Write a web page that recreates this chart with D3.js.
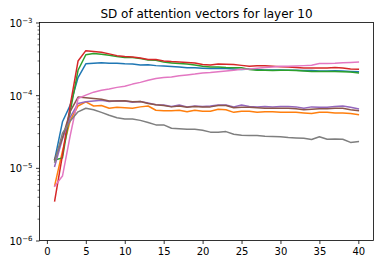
<!DOCTYPE html>
<html><head><meta charset="utf-8">
<script src="https://cdn.jsdelivr.net/npm/d3@7"></script>
<style>html,body{margin:0;padding:0;background:#fff;}svg{display:block;font-family:"DejaVu Sans",sans-serif;}</style>
</head><body><svg id="c" width="384" height="264"></svg>
<script>
const titleText = "SD of attention vectors for layer 10";
const layers = d3.range(1, 41);
const xTicks = [0, 5, 10, 15, 20, 25, 30, 35, 40];
const yTickExps = [-6, -5, -4, -3];
const seriesColors = ["#1f77b4", "#ff7f0e", "#2ca02c", "#d62728", "#9467bd", "#8c564b", "#e377c2", "#7f7f7f"];

const blue = [1.3e-5,4.3e-5,7.3e-5,1.75e-4,2.7e-4,2.75e-4,2.8e-4,2.75e-4,2.75e-4,2.7e-4,2.68e-4,2.6e-4,2.62e-4,2.55e-4,2.52e-4,2.48e-4,2.45e-4,2.38e-4,2.38e-4,2.35e-4,2.32e-4,2.34e-4,2.33e-4,2.3e-4,2.25e-4,2.3e-4,2.25e-4,2.22e-4,2.22e-4,2.22e-4,2.2e-4,2.2e-4,2.18e-4,2.18e-4,2.15e-4,2.15e-4,2.17e-4,2.15e-4,2.12e-4,2.1e-4];
const orange = [5.7e-6,1.7e-5,4.5e-5,7.1e-5,8.1e-5,7.1e-5,7.2e-5,6.6e-5,6.8e-5,6.7e-5,6.6e-5,6.9e-5,7.1e-5,6.2e-5,6.1e-5,6.1e-5,6.2e-5,5.9e-5,6.2e-5,6.0e-5,6.0e-5,6.4e-5,6.3e-5,5.8e-5,6.0e-5,6.0e-5,5.8e-5,5.9e-5,5.9e-5,5.8e-5,5.8e-5,5.8e-5,5.7e-5,5.6e-5,5.8e-5,5.8e-5,5.7e-5,5.7e-5,5.6e-5,5.4e-5];
const green = [1.28e-5,1.37e-5,6e-5,2.2e-4,3.6e-4,3.75e-4,3.65e-4,3.55e-4,3.4e-4,3.3e-4,3.3e-4,3.2e-4,3.05e-4,3.02e-4,2.85e-4,2.78e-4,2.72e-4,2.68e-4,2.6e-4,2.5e-4,2.45e-4,2.45e-4,2.4e-4,2.38e-4,2.38e-4,2.25e-4,2.2e-4,2.2e-4,2.18e-4,2.2e-4,2.2e-4,2.18e-4,2.15e-4,2.12e-4,2.12e-4,2.12e-4,2.12e-4,2.1e-4,2.08e-4,2.02e-4];
const red = [3.5e-6,1.5e-5,7.3e-5,2.95e-4,4.1e-4,4.0e-4,3.9e-4,3.7e-4,3.5e-4,3.4e-4,3.35e-4,3.25e-4,3.1e-4,3.1e-4,2.95e-4,2.9e-4,2.87e-4,2.82e-4,2.78e-4,2.65e-4,2.6e-4,2.69e-4,2.67e-4,2.64e-4,2.57e-4,2.5e-4,2.53e-4,2.53e-4,2.5e-4,2.47e-4,2.45e-4,2.41e-4,2.37e-4,2.37e-4,2.37e-4,2.37e-4,2.41e-4,2.37e-4,2.3e-4,2.27e-4];
const purple = [1.05e-5,2.5e-5,5e-5,7.7e-5,8.1e-5,8.3e-5,8.5e-5,8.2e-5,8.4e-5,8.3e-5,8.0e-5,8.2e-5,7.8e-5,7.4e-5,7.3e-5,7.0e-5,7.3e-5,6.9e-5,7.1e-5,7.0e-5,7.1e-5,7.3e-5,7.3e-5,6.9e-5,7.3e-5,7.0e-5,6.9e-5,7.0e-5,6.9e-5,7.0e-5,7.0e-5,6.9e-5,6.6e-5,6.9e-5,6.8e-5,6.8e-5,7.0e-5,7.1e-5,6.8e-5,6.5e-5];
const brown = [1.3e-5,2.6e-5,6e-5,9.4e-5,9.2e-5,9.0e-5,8.8e-5,8.3e-5,8.3e-5,8.4e-5,8.1e-5,8.2e-5,7.7e-5,7.4e-5,7.2e-5,6.9e-5,7.1e-5,6.8e-5,7.0e-5,6.9e-5,6.9e-5,7.2e-5,7.2e-5,6.7e-5,6.8e-5,6.8e-5,6.7e-5,6.6e-5,6.6e-5,6.6e-5,6.6e-5,6.5e-5,6.3e-5,6.4e-5,6.5e-5,6.5e-5,6.6e-5,6.6e-5,6.3e-5,6.1e-5];
const pink = [5.6e-6,7.7e-6,2.8e-5,9e-5,1.0e-4,1.1e-4,1.17e-4,1.22e-4,1.28e-4,1.33e-4,1.42e-4,1.5e-4,1.6e-4,1.7e-4,1.75e-4,1.78e-4,1.85e-4,1.9e-4,1.95e-4,2.02e-4,2.05e-4,2.1e-4,2.15e-4,2.2e-4,2.27e-4,2.3e-4,2.35e-4,2.4e-4,2.45e-4,2.5e-4,2.5e-4,2.52e-4,2.55e-4,2.58e-4,2.72e-4,2.72e-4,2.75e-4,2.8e-4,2.82e-4,2.85e-4];
const gray = [1.2e-5,3.0e-5,4.4e-5,5.9e-5,6.6e-5,6.3e-5,5.8e-5,5.3e-5,4.9e-5,4.7e-5,4.7e-5,4.5e-5,4.2e-5,3.9e-5,3.9e-5,3.5e-5,3.45e-5,3.4e-5,3.4e-5,3.3e-5,3.1e-5,3.1e-5,3.15e-5,2.9e-5,2.8e-5,2.78e-5,2.78e-5,2.72e-5,2.7e-5,2.68e-5,2.62e-5,2.58e-5,2.55e-5,2.45e-5,2.68e-5,2.47e-5,2.5e-5,2.47e-5,2.24e-5,2.3e-5];

const allSeries = [blue, orange, green, red, purple, brown, pink, gray];

const L = 39.5, R = 373.5, T = 22.5, B = 240.5;
const svg = d3.select("#c");
const x = d3.scaleLinear().domain([-0.95, 41.95]).range([L, R]);
const y = d3.scaleLog().domain([1e-6, 1e-3]).range([B, T]);

const plot = svg.append("g");
const clip = svg.append("defs").append("clipPath").attr("id","clp").append("rect")
  .attr("x", L).attr("y", T).attr("width", R - L).attr("height", B - T);
const line = d3.line().x((d, i) => x(layers[i])).y(d => y(d));
allSeries.forEach((s, k) => {
  plot.append("path").datum(s).attr("d", line).attr("fill", "none")
    .attr("stroke", seriesColors[k]).attr("stroke-width", 1.5)
    .attr("stroke-linejoin", "round").attr("stroke-linecap", "square")
    .attr("clip-path", "url(#clp)");
});

// spines
svg.append("rect").attr("x", L).attr("y", T).attr("width", R - L).attr("height", B - T)
  .attr("fill", "none").attr("stroke", "#000").attr("stroke-width", 0.8);

// x axis
const xAxis = d3.axisBottom(x).tickValues(xTicks).tickSize(3.5).tickPadding(3.5).tickFormat(d3.format("d"));
const gx = svg.append("g").attr("transform", `translate(0,${B})`).call(xAxis);
gx.select(".domain").remove();
gx.selectAll(".tick line").attr("stroke-width", 0.8);
gx.selectAll(".tick text").attr("font-size", 10).attr("font-family", "DejaVu Sans").attr("fill", "#000");

// y axis major
const yMajor = yTickExps.map(e => Math.pow(10, e));
const yAxis = d3.axisLeft(y).tickValues(yMajor).tickSize(3.5).tickFormat("");
const gy = svg.append("g").attr("transform", `translate(${L},0)`).call(yAxis);
gy.select(".domain").remove();
gy.selectAll(".tick line").attr("stroke-width", 0.8);
// minor ticks
const yMinor = [];
for (let e = -6; e < -3; e++) for (let m = 2; m <= 9; m++) yMinor.push(m * Math.pow(10, e));
const yAxisMinor = d3.axisLeft(y).tickValues(yMinor).tickSize(2).tickFormat("");
const gym = svg.append("g").attr("transform", `translate(${L},0)`).call(yAxisMinor);
gym.select(".domain").remove();
gym.selectAll(".tick line").attr("stroke-width", 0.6);

// y tick labels with superscripts
yTickExps.forEach(e => {
  const t = svg.append("text").attr("x", L - 7).attr("y", y(Math.pow(10, e)) + 4.5)
    .attr("text-anchor", "end").attr("font-size", 10).attr("fill", "#000");
  t.append("tspan").text("10");
  t.append("tspan").attr("font-size", 7).attr("dy", -4.5).text("\u2212" + Math.abs(e));
});

// title
svg.append("text").attr("x", (L + R) / 2).attr("y", 17.5).attr("text-anchor", "middle")
  .attr("font-size", 12).attr("fill", "#000").text(titleText);
</script></body></html>
